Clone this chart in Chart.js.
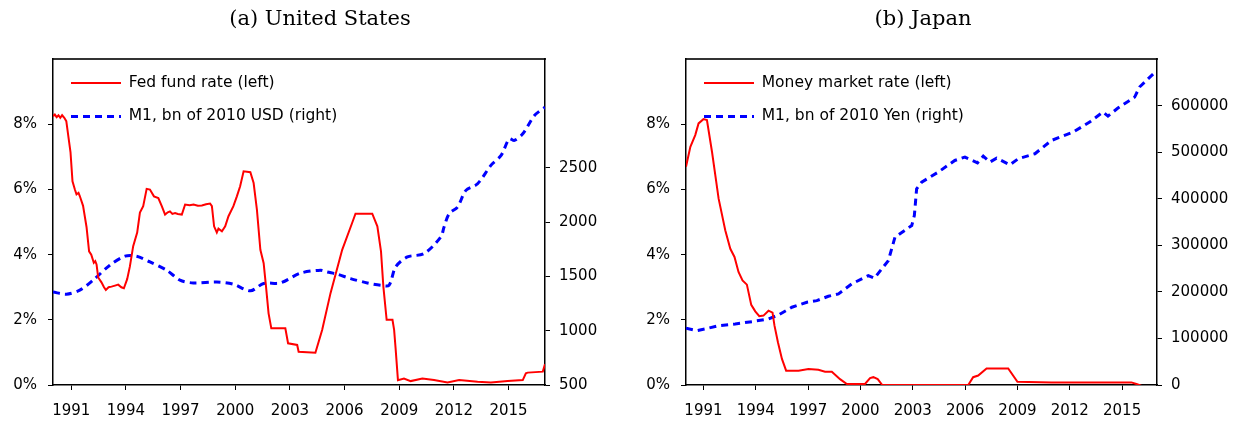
<!DOCTYPE html>
<html>
<head>
<meta charset="utf-8">
<script src="https://cdn.jsdelivr.net/npm/chart.js@4.4.0/dist/chart.umd.min.js"></script>
<style>
  html, body { margin: 0; padding: 0; background: #fff; }
  body { width: 1233px; height: 423px; position: relative; overflow: hidden; }
  canvas { position: absolute; top: 0; }
  #chart-us { left: 0; }
  #chart-jp { left: 613px; }
</style>
</head>
<body>
<canvas id="chart-us" width="640" height="423"></canvas>
<canvas id="chart-jp" width="620" height="423"></canvas>
<script>
// shared axes
const yearTicks = [1991, 1994, 1997, 2000, 2003, 2006, 2009, 2012, 2015];
const rateTicks = [0, 2, 4, 6, 8];

// (a) United States
const usRateYears = [1990.00, 1990.10, 1990.20, 1990.30, 1990.40, 1990.50, 1990.62, 1990.73, 1990.85, 1990.96,
  1991.07, 1991.20, 1991.29, 1991.40, 1991.47, 1991.65, 1991.84, 1991.98, 1992.10, 1992.24,
  1992.32, 1992.39, 1992.48, 1992.66, 1992.80, 1992.90, 1993.05, 1993.21, 1993.40, 1993.58,
  1993.75, 1993.89, 1994.07, 1994.22, 1994.40, 1994.62, 1994.77, 1994.95, 1995.14, 1995.32,
  1995.54, 1995.78, 1995.97, 1996.15, 1996.30, 1996.42, 1996.55, 1996.70, 1996.85, 1997.07,
  1997.25, 1997.50, 1997.71, 1997.95, 1998.17, 1998.40, 1998.62, 1998.72, 1998.84, 1998.99,
  1999.08, 1999.27, 1999.45, 1999.63, 1999.90, 2000.09, 2000.27, 2000.46, 2000.83, 2001.01,
  2001.19, 2001.38, 2001.56, 2001.69, 2001.83, 2001.98, 2002.75, 2002.90, 2003.40, 2003.48,
  2004.40, 2004.77, 2005.23, 2005.87, 2006.42, 2006.60, 2007.52, 2007.80, 2008.00, 2008.13,
  2008.31, 2008.63, 2008.72, 2008.80, 2008.93, 2009.26, 2009.63, 2010.27, 2010.91, 2011.65,
  2012.29, 2013.30, 2014.03, 2014.95, 2015.78, 2015.95, 2016.05, 2016.88, 2017.00];
const usRateValues = [8.25, 8.30, 8.22, 8.28, 8.20, 8.28, 8.20, 8.10, 7.60, 7.15,
  6.25, 6.00, 5.85, 5.90, 5.80, 5.50, 4.85, 4.10, 4.00, 3.75,
  3.80, 3.70, 3.30, 3.15, 3.00, 2.92, 3.00, 3.02, 3.05, 3.08,
  3.00, 2.97, 3.25, 3.64, 4.26, 4.68, 5.29, 5.49, 6.02, 6.00,
  5.79, 5.74, 5.49, 5.23, 5.30, 5.33, 5.25, 5.28, 5.25, 5.23,
  5.54, 5.52, 5.54, 5.50, 5.51, 5.55, 5.57, 5.49, 4.87, 4.68,
  4.80, 4.72, 4.87, 5.18, 5.49, 5.79, 6.10, 6.56, 6.53, 6.20,
  5.38, 4.15, 3.74, 3.02, 2.20, 1.74, 1.74, 1.28, 1.23, 1.02,
  0.99, 1.69, 2.82, 4.15, 4.98, 5.26, 5.26, 4.87, 4.10, 3.02,
  2.00, 2.00, 1.69, 1.13, 0.15, 0.20, 0.12, 0.20, 0.15, 0.08,
  0.15, 0.10, 0.08, 0.12, 0.15, 0.36, 0.38, 0.41, 0.64];

const usM1Years = [1990.00, 1990.73, 1991.47, 1992.20, 1993.12, 1993.95, 1994.59, 1995.32, 1996.24, 1996.97,
  1997.70, 1998.99, 1999.90, 2000.83, 2001.56, 2002.48, 2003.58, 2004.68, 2005.04, 2005.60,
  2006.33, 2007.25, 2007.98, 2008.44, 2008.80, 2009.45, 2010.36, 2011.28, 2011.46, 2011.74,
  2012.20, 2012.66, 2013.30, 2014.03, 2014.59, 2015.04, 2015.32, 2015.78, 2016.42, 2017.00];
const usM1Values = [1357, 1336, 1373, 1465, 1603, 1686, 1686, 1633, 1557, 1465,
  1440, 1449, 1428, 1367, 1435, 1440, 1530, 1557, 1541, 1520,
  1480, 1440, 1419, 1419, 1587, 1679, 1710, 1863, 1955, 2078,
  2139, 2292, 2353, 2522, 2614, 2767, 2752, 2813, 2981, 3058];
const usM1Ticks = [500, 1000, 1500, 2000, 2500];

// (b) Japan
const jpRateYears = [1990.00, 1990.25, 1990.53, 1990.72, 1991.00, 1991.20, 1991.49, 1991.87, 1992.25, 1992.54,
  1992.78, 1993.01, 1993.24, 1993.49, 1993.74, 1993.97, 1994.20, 1994.44, 1994.73, 1994.96,
  1995.07, 1995.27, 1995.50, 1995.74, 1996.45, 1997.02, 1997.59, 1997.97, 1998.36, 1998.83,
  1999.22, 2000.26, 2000.55, 2000.74, 2000.99, 2001.25, 2006.18, 2006.46, 2006.75, 2007.23,
  2008.47, 2009.00, 2010.95, 2012.47, 2015.53, 2015.82, 2016.10];
const jpRateValues = [6.70, 7.31, 7.67, 8.03, 8.16, 8.13, 7.16, 5.72, 4.75, 4.18,
  3.93, 3.47, 3.21, 3.08, 2.46, 2.26, 2.11, 2.13, 2.28, 2.22,
  1.83, 1.31, 0.80, 0.44, 0.44, 0.49, 0.47, 0.41, 0.41, 0.18,
  0.03, 0.03, 0.21, 0.24, 0.18, 0.00, 0.00, 0.24, 0.29, 0.51,
  0.51, 0.10, 0.08, 0.08, 0.08, 0.03, -0.02];

const jpM1Years = [1990.00, 1990.63, 1991.10, 1991.87, 1992.82, 1993.78, 1994.73, 1995.30, 1996.07, 1996.93,
  1997.50, 1998.16, 1998.74, 1999.50, 2000.45, 2000.80, 2001.60, 2001.98, 2002.94, 2003.09,
  2003.22, 2003.51, 2004.46, 2005.41, 2005.99, 2006.71, 2007.04, 2007.42, 2007.80, 2008.56,
  2009.04, 2010.00, 2010.95, 2012.19, 2013.14, 2013.90, 2014.19, 2014.76, 2015.72, 2016.00,
  2016.80];
const jpM1Values = [121900, 116800, 120400, 127500, 131200, 136100, 141900, 150500, 167100, 177800,
  181300, 190700, 195700, 217200, 235100, 229400, 267300, 317600, 342600, 364100,
  421500, 435900, 457400, 482400, 489700, 477400, 491800, 478900, 487500, 473100,
  486000, 496800, 525400, 543400, 564900, 586400, 577800, 595000, 618700, 640200,
  669000];
const jpM1Ticks = [0, 100000, 200000, 300000, 400000, 500000, 600000];

const SANS = 'DejaVu Sans';

function toPoints(xs, ys) {
  return xs.map((x, i) => ({ x, y: ys[i] }));
}

function fixedTicks(list) {
  return scale => { scale.ticks = list.map(v => ({ value: v })); };
}

// legend 'chartArea' gets its top reset to 0, put it back inside the plot
const legendInPlot = {
  id: 'legendInPlot',
  afterLayout(chart) {
    const lg = chart.legend;
    const h = lg.bottom - lg.top;
    lg.top = chart.chartArea.top - 2;
    lg.bottom = lg.top + h;
  }
};

// point-style legend items lose the dataset dash, copy it back
function lineLabels(chart) {
  const items = Chart.defaults.plugins.legend.labels.generateLabels(chart);
  return items.map(item => {
    const ds = chart.data.datasets[item.datasetIndex];
    return { ...item, lineDash: ds.borderDash || [], lineWidth: ds.borderWidth };
  });
}

function makeChart(id, o) {
  const tickFont = { family: SANS, size: 15 };
  return new Chart(document.getElementById(id), {
    type: 'line',
    plugins: [legendInPlot],
    data: {
      datasets: [{
        label: o.rateLabel,
        data: toPoints(o.rateX, o.rateY),
        yAxisID: 'y',
        borderColor: '#ff0000',
        borderWidth: 2,
        pointRadius: 0,
        tension: 0
      }, {
        label: o.m1Label,
        data: toPoints(o.m1X, o.m1Y),
        yAxisID: 'y1',
        borderColor: '#0000ff',
        borderWidth: 3,
        borderDash: [7, 5],
        pointRadius: 0,
        tension: o.m1Tension
      }]
    },
    options: {
      responsive: false,
      animation: false,
      layout: { padding: 0 },
      plugins: {
        title: {
          display: true,
          text: o.title,
          color: '#000',
          font: { family: 'DejaVu Serif', size: 21, weight: 'normal' },
          padding: { top: 7, bottom: 27 }
        },
        legend: {
          position: 'chartArea',
          align: 'start',
          labels: {
            usePointStyle: true,
            pointStyle: 'line',
            pointStyleWidth: 50,
            padding: 18,
            color: '#000',
            font: { family: SANS, size: 15.5 },
            generateLabels: lineLabels
          }
        },
        tooltip: { enabled: false }
      },
      scales: {
        x: {
          type: 'linear',
          min: 1990,
          max: 2017,
          afterBuildTicks: fixedTicks(yearTicks),
          afterFit: s => { s.height = 38; },
          grid: { drawOnChartArea: false, tickLength: 5, color: '#000' },
          border: { color: '#000', width: 1.5 },
          ticks: { padding: 12, color: '#000', font: tickFont, callback: v => String(v) }
        },
        frameTop: {
          type: 'linear',
          position: 'top',
          afterFit: s => { s.height = 0; },
          grid: { display: false },
          border: { color: '#333', width: 2 },
          ticks: { display: false }
        },
        y: {
          position: 'left',
          min: 0,
          max: 10,
          afterBuildTicks: fixedTicks(rateTicks),
          afterFit: s => { s.width = o.leftWidth; },
          grid: { drawOnChartArea: false, tickLength: 5, color: '#000' },
          border: { color: '#000', width: 1.5 },
          ticks: { padding: 11, color: '#000', font: tickFont, callback: v => v + '%' }
        },
        y1: {
          position: 'right',
          min: o.m1Min,
          max: o.m1Max,
          afterBuildTicks: fixedTicks(o.m1Ticks),
          afterFit: s => { s.width = o.rightWidth; },
          grid: { drawOnChartArea: false, tickLength: 5, color: '#000' },
          border: { color: '#000', width: 1.5 },
          ticks: { padding: 9, color: '#000', font: tickFont, callback: v => String(v) }
        }
      }
    }
  });
}

makeChart('chart-us', {
  title: '(a) United States',
  rateLabel: 'Fed fund rate (left)',
  m1Label: 'M1, bn of 2010 USD (right)',
  rateX: usRateYears, rateY: usRateValues,
  m1X: usM1Years, m1Y: usM1Values,
  m1Ticks: usM1Ticks, m1Min: 500, m1Max: 3500, m1Tension: 0.3,
  leftWidth: 53, rightWidth: 95
});

makeChart('chart-jp', {
  title: '(b) Japan',
  rateLabel: 'Money market rate (left)',
  m1Label: 'M1, bn of 2010 Yen (right)',
  rateX: jpRateYears, rateY: jpRateValues,
  m1X: jpM1Years, m1Y: jpM1Values,
  m1Ticks: jpM1Ticks, m1Min: 0, m1Max: 700000, m1Tension: 0,
  leftWidth: 73, rightWidth: 76
});
</script>
</body>
</html>
